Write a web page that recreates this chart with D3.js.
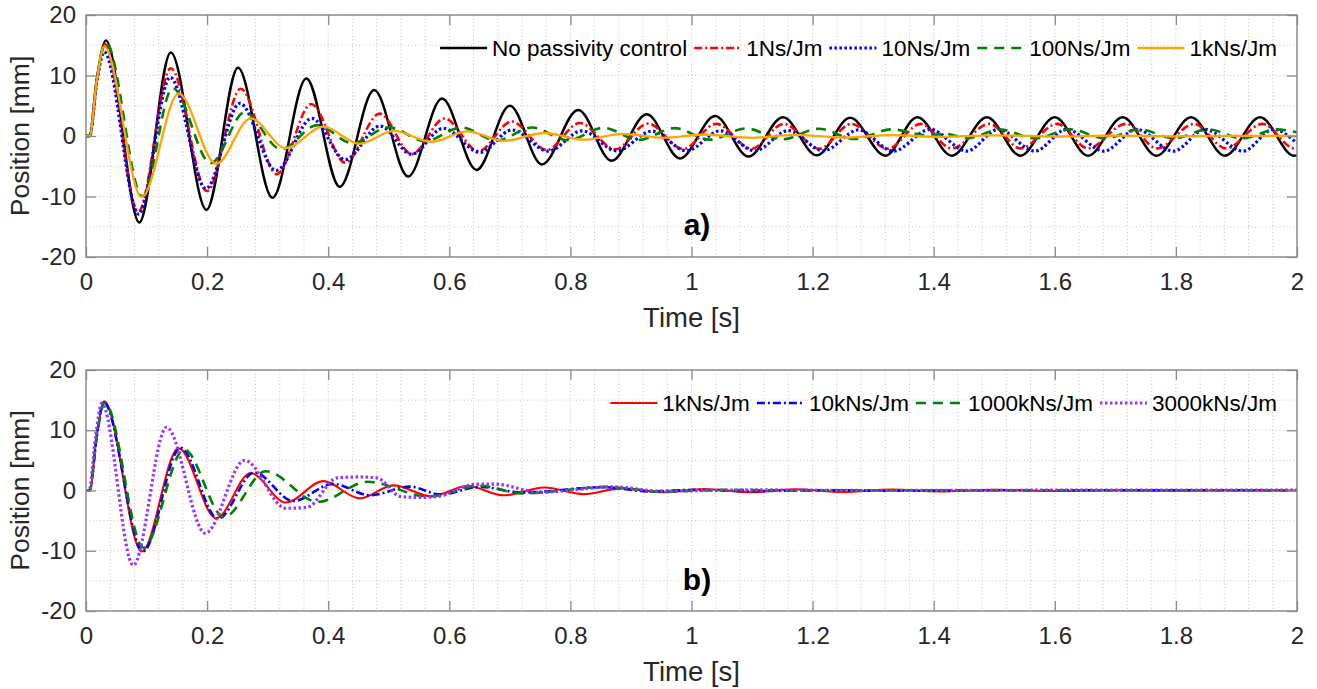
<!DOCTYPE html>
<html>
<head>
<meta charset="utf-8">
<script src="https://cdn.jsdelivr.net/npm/d3@7"></script>
<style>
  body { margin: 0; background: #fff; }
  svg { display: block; font-family: "Liberation Sans", Arial, Helvetica, sans-serif; }
</style>
</head>
<body>
<svg id="chart" width="1317" height="689"></svg>
<script>
// ---- data: [time s, position mm] at peaks / troughs ----
const timeTicks = [0, 0.2, 0.4, 0.6, 0.8, 1, 1.2, 1.4, 1.6, 1.8, 2];
const posTicks = [-20, -10, 0, 10, 20];

const noControl = [[0,0],[0.006,0],[0.018,9.5],[0.033,15.8],[0.088,-14.3],[0.140,13.8],[0.199,-12.2],[0.251,11.3],
  [0.308,-10.2],[0.364,9.5],[0.419,-8.4],[0.476,7.6],[0.532,-6.7],[0.588,6.2],[0.645,-5.6],[0.700,5.0],[0.753,-4.7],
  [0.813,4.3],[0.868,-4.1],[0.926,3.6],[0.981,-3.7],[1.039,3.3],[1.094,-3.4],[1.151,3.1],[1.207,-3.2],[1.262,3.0],
  [1.320,-3.25],[1.373,3.1],[1.430,-3.25],[1.488,3.1],[1.543,-3.25],[1.600,3.1],[1.655,-3.25],[1.712,3.1],[1.768,-3.25],
  [1.825,3.1],[1.881,-3.25],[1.939,3.1],[1.995,-3.25],[2.0,-3.2]];

const ns1 = [[0,0],[0.006,0],[0.018,9.2],[0.031,15.2],[0.086,-12.6],[0.140,11.2],[0.200,-9.1],[0.2555,7.8],[0.315,-6.3],
  [0.372,5.3],[0.428,-4.4],[0.485,3.7],[0.538,-3.0],[0.592,2.9],[0.648,-2.5],[0.703,2.4],[0.761,-2.3],[0.8155,2.15],
  [0.874,-2.2],[0.928,2.05],[0.986,-2.15],[1.041,2.0],[1.099,-2.1],[1.152,2.0],[1.211,-2.1],[1.264,2.0],[1.324,-2.1],
  [1.3785,2.0],[1.4296,-2.05],[1.492,2.0],[1.5436,-2.05],[1.604,2.0],[1.655,-2.05],[1.7176,2.0],[1.769,-2.05],[1.83,2.0],
  [1.8827,-2.05],[1.943,2.0],[1.996,-2.05],[2.0,-2.0]];

const ns10 = [[0,0],[0.006,0],[0.018,9],[0.030,13.9],[0.087,-12.9],[0.139,9.7],[0.198,-8.7],[0.254,5.4],[0.314,-5.7],
  [0.373,2.9],[0.428,-3.9],[0.4855,1.65],[0.5376,-3.0],[0.590,1.27],[0.6505,-2.7],[0.7036,1.0],[0.7633,-2.5],[0.8192,0.85],
  [0.8762,-2.45],[0.935,0.8],[0.9918,-2.45],[1.0474,0.85],[1.1046,-2.45],[1.16,0.9],[1.2175,-2.45],[1.276,1.0],[1.333,-2.5],
  [1.394,1.1],[1.4545,-2.5],[1.5068,1.1],[1.567,-2.5],[1.6196,1.1],[1.681,-2.5],[1.735,1.1],[1.796,-2.5],[1.848,1.1],
  [1.911,-2.5],[1.961,1.1],[2.0,-1.2]];

const ns100 = [[0,0],[0.006,0],[0.018,9.4],[0.033,15.4],[0.093,-10.0],[0.143,7.9],[0.206,-4.5],[0.262,3.9],[0.322,-2.2],
  [0.382,1.8],[0.440,-1.2],[0.500,1.45],[0.560,-0.85],[0.620,1.4],[0.678,-0.75],[0.737,1.4],[0.795,-0.7],[0.855,1.35],
  [0.913,-0.65],[0.972,1.3],[1.030,-0.6],[1.090,1.25],[1.150,-0.55],[1.210,1.2],[1.270,-0.5],[1.330,1.1],[1.390,0.1],
  [1.420,0.35],[1.455,-0.35],[1.510,1.05],[1.567,-0.4],[1.625,1.1],[1.683,-0.4],[1.740,1.1],[1.797,-0.4],[1.853,1.1],
  [1.910,-0.4],[1.966,1.1],[2.0,0.6]];

const kns1 = [[0,0],[0.006,0],[0.018,9.3],[0.030,14.8],[0.092,-10.1],[0.153,7.0],[0.215,-4.6],[0.272,2.9],[0.330,-2.0],
  [0.392,1.55],[0.452,-1.3],[0.508,0.85],[0.570,-0.95],[0.630,0.75],[0.690,-0.8],[0.757,0.5],[0.822,-0.6],[0.885,0.35],
  [0.955,-0.3],[1.02,0.25],[1.10,-0.3],[1.17,0.2],[1.25,-0.25],[1.33,0.15],[1.41,-0.15],[1.5,0.1],[1.6,-0.08],
  [1.7,0.05],[1.8,-0.05],[1.9,0.03],[2.0,0]];

const kns10 = [[0,0],[0.006,0],[0.018,9.2],[0.029,14.7],[0.094,-10.1],[0.156,7.1],[0.218,-4.7],[0.278,3.0],[0.342,-1.75],
  [0.408,1.1],[0.469,-0.8],[0.535,0.65],[0.585,-0.65],[0.651,0.6],[0.72,-0.35],[0.855,0.55],[0.93,-0.15],[1.0,0.1],
  [1.1,-0.1],[1.2,0.05],[1.35,-0.05],[1.5,0.03],[2.0,0.05]];

const kns1000 = [[0,0],[0.006,0],[0.018,9.1],[0.031,14.6],[0.095,-9.5],[0.162,6.8],[0.228,-4.4],[0.297,3.2],[0.383,-1.9],
  [0.465,1.45],[0.565,-1.0],[0.65,0.8],[0.72,-0.5],[0.86,0.6],[0.95,-0.2],[1.05,0.1],[1.2,-0.05],[1.4,0.05],[2.0,0.05]];

const kns3000 = [[0,0],[0.005,0],[0.016,9],[0.026,14.5],[0.078,-12.4],[0.133,10.5],[0.197,-7.1],[0.262,5.0],[0.33,-2.95],
  [0.365,-2.8],[0.415,2.1],[0.45,2.25],[0.48,2.1],[0.52,-1.0],[0.55,-1.15],[0.58,-1.0],[0.645,1.05],[0.675,1.05],
  [0.75,-0.3],[0.87,0.6],[0.95,-0.1],[1.1,0.1],[1.3,0.0],[1.6,0.05],[2.0,0.05]];

const topSeries = [
  { name: "No passivity control", data: noControl, color: "#000000", width: 2.5, dash: null },
  { name: "1Ns/Jm", data: ns1, color: "#ff0000", width: 2.6, dash: "8,3,2,3" },
  { name: "10Ns/Jm", data: ns10, color: "#0000ff", width: 3.2, dash: "2.5,2.5" },
  { name: "100Ns/Jm", data: ns100, color: "#008000", width: 2.6, dash: "10,7" },
  { name: "1kNs/Jm", data: kns1, color: "#ffa500", width: 2.3, dash: null }
];
const bottomSeries = [
  { name: "1kNs/Jm", data: kns1, color: "#ff0000", width: 2.1, dash: null },
  { name: "10kNs/Jm", data: kns10, color: "#0000ff", width: 2.6, dash: "8,3,2,3" },
  { name: "1000kNs/Jm", data: kns1000, color: "#008000", width: 2.6, dash: "10,7" },
  { name: "3000kNs/Jm", data: kns3000, color: "#9933ff", width: 3.2, dash: "2.5,2.5" }
];

// ---- layout ----
const svg = d3.select("#chart");
const left = 86, right = 1297;
const x = d3.scaleLinear().domain([0, 2]).range([left, right]);
const axisColor = "#8a8a8a", textColor = "#262626";

function drawPanel(top, bottom, series, tag, id) {
  const y = d3.scaleLinear().domain([-20, 20]).range([bottom, top]);
  const g = svg.append("g");

  g.append("clipPath").attr("id", "clip" + id).append("rect")
    .attr("x", left).attr("y", top).attr("width", right - left).attr("height", bottom - top);

  // dotted grid
  const grid = g.append("g").attr("stroke", "#c4c4c4").attr("stroke-width", 1).attr("stroke-dasharray", "1,2.5");
  grid.selectAll("line.v").data(d3.range(1, 50).map(i => i * 0.04)).join("line")
    .attr("x1", d => x(d)).attr("x2", d => x(d)).attr("y1", top).attr("y2", bottom);
  grid.selectAll("line.h").data(d3.range(-15, 20, 5)).join("line")
    .attr("x1", left).attr("x2", right).attr("y1", d => y(d)).attr("y2", d => y(d));

  // curves
  const line = d3.line().x(d => x(d[0])).y(d => y(d[1])).curve(d3.curveMonotoneX);
  const lines = g.append("g").attr("clip-path", `url(#clip${id})`).attr("fill", "none");
  series.forEach(s => {
    lines.append("path").datum(s.data).attr("d", line)
      .attr("stroke", s.color).attr("stroke-width", s.width)
      .attr("stroke-dasharray", s.dash).attr("stroke-linejoin", "round");
  });

  // axes, ticks pointing inward
  const ax = [
    g.append("g").attr("transform", `translate(0,${bottom})`).call(d3.axisBottom(x).tickValues(timeTicks).tickSizeInner(-10).tickSizeOuter(0).tickPadding(16).tickFormat(d => String(d))),
    g.append("g").attr("transform", `translate(0,${top})`).call(d3.axisTop(x).tickValues(timeTicks).tickSizeInner(-10).tickSizeOuter(0).tickFormat("")),
    g.append("g").attr("transform", `translate(${left},0)`).call(d3.axisLeft(y).tickValues(posTicks).tickSizeInner(-10).tickSizeOuter(0).tickPadding(10).tickFormat(d => String(d))),
    g.append("g").attr("transform", `translate(${right},0)`).call(d3.axisRight(y).tickValues(posTicks).tickSizeInner(-10).tickSizeOuter(0).tickFormat(""))
  ];
  ax.forEach(a => {
    a.select(".domain").remove();
    a.selectAll(".tick line").attr("stroke", axisColor).attr("stroke-width", 1.3);
    a.selectAll(".tick text").attr("fill", textColor).attr("font-size", 24).attr("font-family", null);
  });
  g.append("rect").attr("x", left).attr("y", top).attr("width", right - left).attr("height", bottom - top)
    .attr("fill", "none").attr("stroke", axisColor).attr("stroke-width", 1.5);

  // labels
  g.append("text").attr("x", (left + right) / 2).attr("y", bottom + 70).attr("text-anchor", "middle")
    .attr("font-size", 27.5).attr("fill", textColor).text("Time [s]");
  g.append("text").attr("transform", `translate(29,${(top + bottom) / 2}) rotate(-90)`).attr("text-anchor", "middle")
    .attr("font-size", 26.5).attr("fill", textColor).text("Position [mm]");
  g.append("text").attr("x", 697).attr("y", top + 220).attr("text-anchor", "middle")
    .attr("font-size", 30).attr("font-weight", "bold").attr("fill", "#000").text(tag);

  // legend, right aligned inside the axes
  const ly = top + 33;
  const leg = g.append("g");
  let cursor = 1277;
  series.slice().reverse().forEach(s => {
    const t = leg.append("text").attr("y", ly).attr("dy", "0.35em").attr("font-size", 22.5).attr("fill", "#000").text(s.name);
    const w = t.node().getComputedTextLength();
    cursor -= w;
    t.attr("x", cursor);
    cursor -= 5;
    leg.append("line").attr("x1", cursor - 47).attr("x2", cursor).attr("y1", ly).attr("y2", ly)
      .attr("stroke", s.color).attr("stroke-width", s.width).attr("stroke-dasharray", s.dash);
    cursor -= 47 + 7;
  });
}

drawPanel(15, 257, topSeries, "a)", "a");
drawPanel(370, 611, bottomSeries, "b)", "b");
</script>
</body>
</html>
